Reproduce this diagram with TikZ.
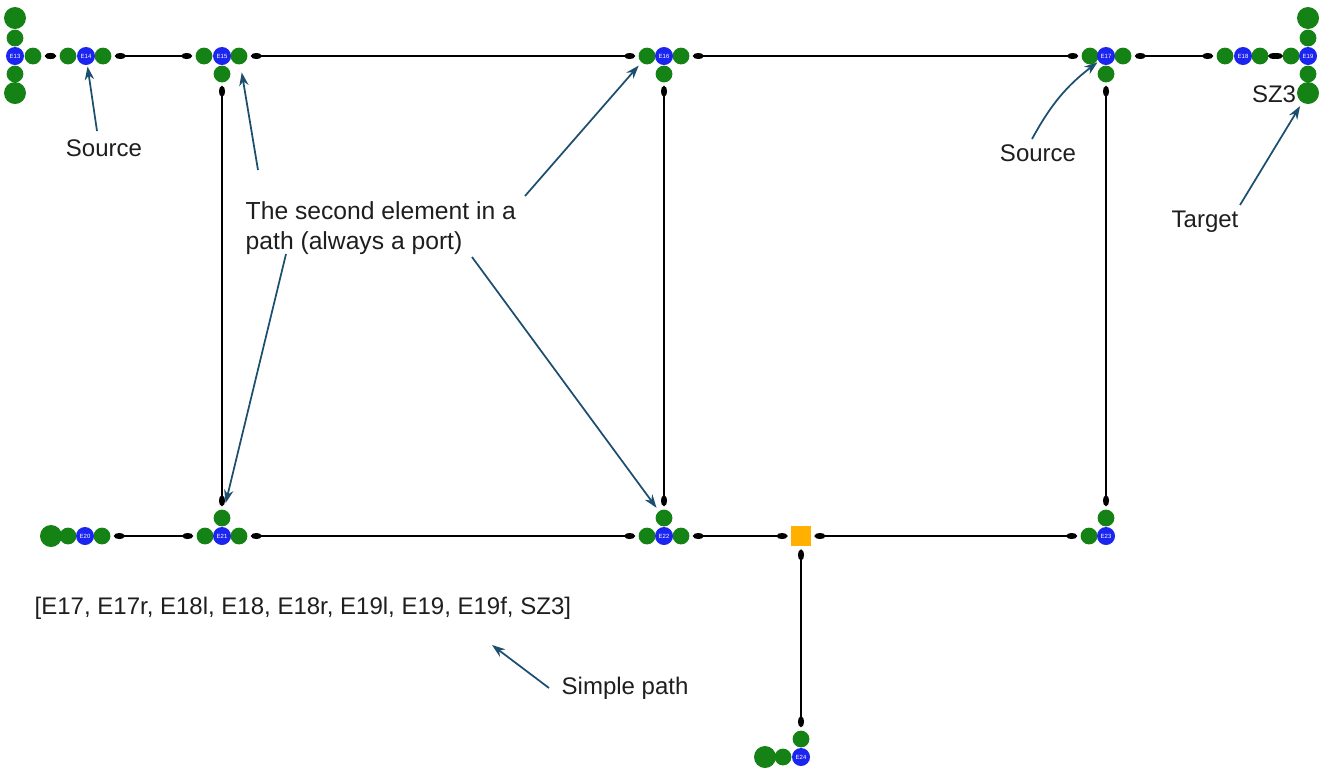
\documentclass[tikz,border=0pt]{standalone}
\usepackage{fontspec}
\setmainfont{Liberation Sans}
\usetikzlibrary{arrows.meta}
\definecolor{portgreen}{RGB}{20,130,20}
\definecolor{elemblue}{RGB}{28,36,240}
\definecolor{switchorange}{RGB}{255,176,0}
\definecolor{annot}{RGB}{28,78,110}
\definecolor{txt}{RGB}{30,30,30}
\begin{document}
\begin{tikzpicture}[x=0.75pt,y=-0.75pt,
  elem/.style={circle,fill=elemblue,inner sep=0,minimum size=13.5pt,text=white,font=\fontsize{4.5}{5}\selectfont},
  port/.style={circle,fill=portgreen,inner sep=0,minimum size=12.6pt},
  endport/.style={circle,fill=portgreen,inner sep=0,minimum size=16.5pt},
  switchbox/.style={rectangle,fill=switchorange,inner sep=0,minimum size=15pt},
  link/.style={line width=1.5pt,{Ellipse[length=8pt,width=4.5pt]}-{Ellipse[length=8pt,width=4.5pt]},shorten <=2.5pt,shorten >=2.5pt},
  note/.style={draw=annot,line width=1.3pt,-{Stealth[length=10pt,width=7pt,fill=annot]}},
  lbl/.style={font=\fontsize{18}{23}\selectfont,text=txt}
]
\useasboundingbox (0,0) rectangle (1333,769);

% ---- ports (green) ----
% E13 end element
\node[endport] (e13tt) at (15,18) {};
\node[port]    (e13t)  at (15,38) {};
\node[port]    (e13b)  at (15,74) {};
\node[endport] (e13bb) at (15,93) {};
\node[port]    (e13r)  at (33,56) {};
% E14
\node[port] (e14l) at (68,56) {};
\node[port] (e14r) at (103,56) {};
% E15
\node[port] (e15l) at (204,56) {};
\node[port] (e15r) at (239,56) {};
\node[port] (e15b) at (222,74) {};
% E16
\node[port] (e16l) at (647,56) {};
\node[port] (e16r) at (681,56) {};
\node[port] (e16b) at (664,74) {};
% E17
\node[port] (e17l) at (1090,56) {};
\node[port] (e17r) at (1123,56) {};
\node[port] (e17b) at (1106,74) {};
% E18
\node[port] (e18l) at (1225,56) {};
\node[port] (e18r) at (1260,56) {};
% E19 end element
\node[port]    (e19l)  at (1291,56) {};
\node[endport] (e19tt) at (1308,18) {};
\node[port]    (e19t)  at (1308,38) {};
\node[port]    (e19b)  at (1308,74) {};
\node[endport] (e19bb) at (1308,93) {};
% E20
\node[endport] (e20e) at (51,536) {};
\node[port]    (e20l) at (68,536) {};
\node[port]    (e20r) at (102,536) {};
% E21
\node[port] (e21l) at (205,536) {};
\node[port] (e21r) at (239,536) {};
\node[port] (e21t) at (222,518) {};
% E22
\node[port] (e22l) at (647,536) {};
\node[port] (e22r) at (681,536) {};
\node[port] (e22t) at (664,518) {};
% E23
\node[port] (e23l) at (1089,536) {};
\node[port] (e23t) at (1106,518) {};
% E24
\node[endport] (e24e) at (765,757) {};
\node[port]    (e24l) at (783,757) {};
\node[port]    (e24t) at (801,739) {};

% ---- elements (blue) ----
\node[elem] (e13) at (15,56) {E13};
\node[elem] (e14) at (86,56) {E14};
\node[elem] (e15) at (222,56) {E15};
\node[elem] (e16) at (664,56) {E16};
\node[elem] (e17) at (1106,56) {E17};
\node[elem] (e18) at (1243,56) {E18};
\node[elem] (e19) at (1308,56) {E19};
\node[elem] (e20) at (85,536) {E20};
\node[elem] (e21) at (222,536) {E21};
\node[elem] (e22) at (664,536) {E22};
\node[elem] (e23) at (1106,536) {E23};
\node[elem] (e24) at (801,757) {E24};

% ---- switch ----
\node[switchbox] (sw) at (801,536) {};

% ---- links ----
\draw[link] (e13r) -- (e14l);
\draw[link] (e14r) -- (e15l);
\draw[link] (e15r) -- (e16l);
\draw[link] (e16r) -- (e17l);
\draw[link] (e17r) -- (e18l);
\draw[link] (e18r) -- (e19l);
\draw[link] (e15b) -- (e21t);
\draw[link] (e16b) -- (e22t);
\draw[link] (e17b) -- (e23t);
\draw[link] (e20r) -- (e21l);
\draw[link] (e21r) -- (e22l);
\draw[link] (e22r) -- (sw);
\draw[link] (sw) -- (e23l);
\draw[link] (sw) -- (e24t);

% ---- labels ----
\node[lbl] (srcL) at (104,148) {Source};
\node[lbl] (srcR) at (1038,153) {Source};
\node[lbl] (sz3) at (1274,94) {SZ3};
\node[lbl] (tgt) at (1205,222) {Target};
\node[lbl,align=left,anchor=west,font=\fontsize{18.5}{23}\selectfont] (second) at (241,228) {The second element in a\\path (always a port)};
\node[lbl,anchor=west] (plist) at (30,608) {[E17, E17r, E18l, E18, E18r, E19l, E19, E19f, SZ3]};
\node[lbl,anchor=west] (simple) at (557,688) {Simple path};

% ---- annotation arrows ----
\coordinate (aSrcL) at (97,131);
\coordinate (aSrcR) at (1032,139);
\coordinate (aTgt) at (1240,205);
\coordinate (aS1) at (258,170);
\coordinate (aS2) at (525,196);
\coordinate (aS3) at (286,254);
\coordinate (aS4) at (472,257);
\coordinate (aSimple) at (549,688);
\coordinate (pTip) at (492,645);

\draw[note,shorten >=1pt] (aSrcL) -- (e14);
\draw[note,shorten >=1pt] (aSrcR) to[bend left=12] (e17);
\draw[note,shorten >=3pt] (aTgt) -- (e19bb);
\draw[note,shorten >=6pt] (aS1) -- (e15r);
\draw[note,shorten >=3pt] (aS2) -- (e16l);
\draw[note,shorten >=5pt] (aS3) -- (e21t);
\draw[note,shorten >=3pt] (aS4) -- (e22t);
\draw[note] (aSimple) -- (pTip);
\end{tikzpicture}
\end{document}
